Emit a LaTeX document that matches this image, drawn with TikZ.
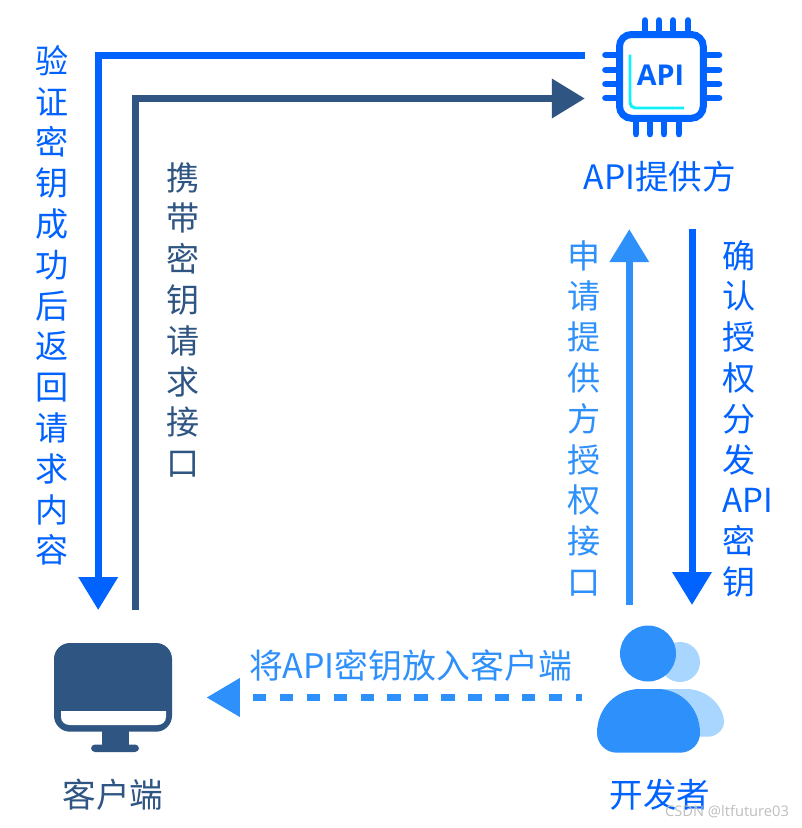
\documentclass[tikz,border=0pt]{standalone}
\usepackage{fontspec}
\setmainfont{Noto Sans CJK SC}
\newfontfamily\latinf{Open Sans}
\usetikzlibrary{arrows.meta,calc}
\definecolor{cblue}{HTML}{0062FF}
\definecolor{cdark}{HTML}{2F5582}
\definecolor{cmid}{HTML}{2E90FA}
\definecolor{clight}{HTML}{A9D6FF}
\definecolor{ccyan}{HTML}{10F0F8}
\tikzset{
  x=0.75pt,y=-0.75pt,
  icon/.style={inner sep=0pt,outer sep=0pt,draw=none},
  conn/.style={line width=5.25pt},
  bluehead/.style={-{Triangle[length=24.75pt,width=28.5pt]}},
  coltext/.style={inner sep=0pt,font=\fontsize{24.8}{30.6}\selectfont,anchor=north},
  lab/.style={inner sep=0pt,font=\fontsize{25.2}{30}\selectfont},
  pin/.style={line width=5pt,line cap=round,draw=cblue},
}
\begin{document}
\begin{tikzpicture}
\useasboundingbox (0,0) rectangle (801,828);
\fill[white] (0,0) rectangle (801,828);
% invisible anchors of the icons
\node[icon,minimum width=115pt,minimum height=229pt] (api) at (661.5,76.5) {};
\node[icon,minimum width=140pt,minimum height=130.5pt] (client) at (113.5,697) {};
\node[icon,minimum width=117pt,minimum height=127.5pt] (dev) at (660,690) {};
\coordinate (cornerA) at (98.2,55.8);
\coordinate (cornerB) at (135.5,98.5);
\coordinate (upx) at (629.3,400);
\coordinate (downx) at (692,400);
\coordinate (dashy) at (400,697.5);
% chip
\foreach \x in {645,659,673,688}{\draw[pin] (\x,20.5)--(\x,31);}
\foreach \x in {636,650,664,679}{\draw[pin] (\x,121)--(\x,134);}
\foreach \y in {55,70,84,98}{
  \draw[pin] (605.5,\y)--(617,\y);
  \draw[pin] (706,\y)--(719,\y);
}
\draw[cblue,line width=5.25pt,fill=white,rounded corners=9pt] (619.5,34.5) rectangle (703.3,118.3);
\draw[ccyan,line width=2.2pt,rounded corners=4pt] (630,54.5)--(630,108)--(684,108);
\node[inner sep=0pt,text=cblue,font=\latinf\bfseries\fontsize{21.5}{22}\selectfont] (apitxt) at (660.5,75) {API};
% monitor
\fill[cdark,rounded corners=12pt] (54,643) rectangle (172,731.7);
\fill[white] (61,711) -- (166,711) -- (166,717)
  .. controls (166,722) and (162,725) .. (157,725) -- (70,725)
  .. controls (65,725) and (61,722) .. (61,717) -- cycle;
\fill[cdark] (101.7,730) rectangle (129,747);
\fill[cdark,rounded corners=3pt] (91,744.5) rectangle (139,752);
% developer
\fill[clight] (680,662) circle[radius=20];
\fill[clight] (660,689) -- (686,689)
  .. controls (708,689) and (724,707) .. (724,722)
  .. controls (724,730) and (716,736.7) .. (708,736.7) -- (660,736.7) -- cycle;
\fill[cmid] (648,653.5) circle[radius=28];
\fill[cmid] (597,733)
  .. controls (597,708) and (616,689) .. (640,689)
  -- (657,689)
  .. controls (681,689) and (700,708) .. (700,733)
  .. controls (700,744) and (691,752.7) .. (680,752.7)
  -- (617,752.7) .. controls (606,752.7) and (597,744) .. (597,733) -- cycle;
% connectors
\draw[conn,cblue,bluehead] (api.west |- cornerA) -- (cornerA) -- (cornerA |- client.north);
\draw[conn,cdark,-{Triangle[length=24.75pt,width=28.5pt]}] (cornerB |- client.north) -- (cornerB) -- (api.west |- cornerB);
\draw[conn,cmid,-{Triangle[length=24.75pt,width=28.5pt]}] (upx |- dev.north) -- (upx |- api.south);
\draw[conn,cblue,-{Triangle[length=24.75pt,width=28.5pt]}] (downx |- api.south) -- (downx |- dev.north);
\draw[line width=4.9pt,cmid,dash pattern=on 10pt off 10.2pt,dash phase=5.5pt] (dev.west |- dashy) -- ($(client.east |- dashy)+(46,0)$);
\fill[cmid] (client.east |- dashy) -- ++(33,-19.5) -- ++(0,39) -- cycle;
% labels
\node[lab,text=cblue] (l1) at (660,177) {API提供方};
\node[lab,text=cdark] (l2) at (113,795) {客户端};
\node[lab,text=cblue] (l3) at (660,795) {开发者};
\node[lab,text=cmid,font=\fontsize{25.4}{30}\selectfont] (l4) at (410.5,666) {将API密钥放入客户端};
\node[coltext,text=cblue,align=center] (c1) at (52,45) {验\\证\\密\\钥\\成\\功\\后\\返\\回\\请\\求\\内\\容};
\node[coltext,text=cdark,align=center] (c2) at (183,162) {携\\带\\密\\钥\\请\\求\\接\\口};
\node[coltext,text=cmid,align=center] (c3) at (584,240) {申\\请\\提\\供\\方\\授\\权\\接\\口};
\node[coltext,text=cblue,align=left,anchor=north west] (c4) at (722.5,240) {确\\认\\授\\权\\分\\发\\API\\密\\钥};
\node[inner sep=0pt,text=black!25,font=\latinf\fontsize{11}{12}\selectfont] (wm) at (727,812) {CSDN @ltfuture03};
\end{tikzpicture}
\end{document}
